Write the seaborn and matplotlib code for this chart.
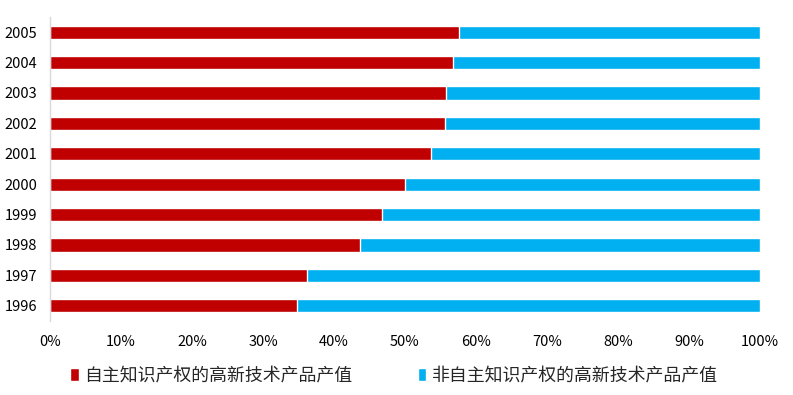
import numpy as np
import pandas as pd
import seaborn as sns
import matplotlib.pyplot as plt
from matplotlib.patches import Patch

years = ['2005', '2004', '2003', '2002', '2001', '2000', '1999', '1998', '1997', '1996']
own_ip = [57.6, 56.7, 55.8, 55.6, 53.7, 50.0, 46.7, 43.7, 36.2, 34.8]
total = [100] * len(years)
labels = ['自主知识产权的高新技术产品产值', '非自主知识产权的高新技术产品产值']
red = '#C00000'
blue = '#00B0F0'

df = pd.DataFrame({'year': years, 'own': own_ip, 'total': total})

sns.set_theme(style='white')
plt.rcParams['font.family'] = ['Noto Sans CJK SC', 'DejaVu Sans']

fig = plt.figure(figsize=(7.93, 3.95), dpi=100)
ax = fig.add_axes([50 / 793, 1 - 321 / 395, 710 / 793, 304 / 395])

# stacked 100% bars: full blue bar underneath, red share on top
sns.barplot(data=df, x='total', y='year', order=years, color=blue,
            width=0.43, saturation=1, ax=ax)
sns.barplot(data=df, x='own', y='year', order=years, color=red,
            width=0.43, saturation=1, ax=ax)

ax.set_xlim(0, 100)
ax.set_xticks(np.arange(0, 101, 10))
ax.set_xticklabels([f'{v}%' for v in range(0, 101, 10)])
ax.set_xlabel('')
ax.set_ylabel('')
for s in ['top', 'right', 'bottom']:
    ax.spines[s].set_visible(False)
ax.spines['left'].set_color('#D9D9D9')
ax.spines['left'].set_linewidth(1)
ax.tick_params(axis='both', length=0, labelsize=10.5, colors='black')
ax.tick_params(axis='x', pad=10)
ax.tick_params(axis='y', pad=9)
for t in ax.get_xticklabels() + ax.get_yticklabels():
    t.set_fontweight('medium')

handles = [Patch(facecolor=red), Patch(facecolor=blue)]
fig.legend(handles, labels, loc='center', bbox_to_anchor=(0.497, 1 - 376 / 395),
           ncol=2, frameon=False, fontsize=12.9, handlelength=0.45, handleheight=0.7,
           handletextpad=0.3, columnspacing=3.7)

fig.savefig('out.png', dpi=100)
